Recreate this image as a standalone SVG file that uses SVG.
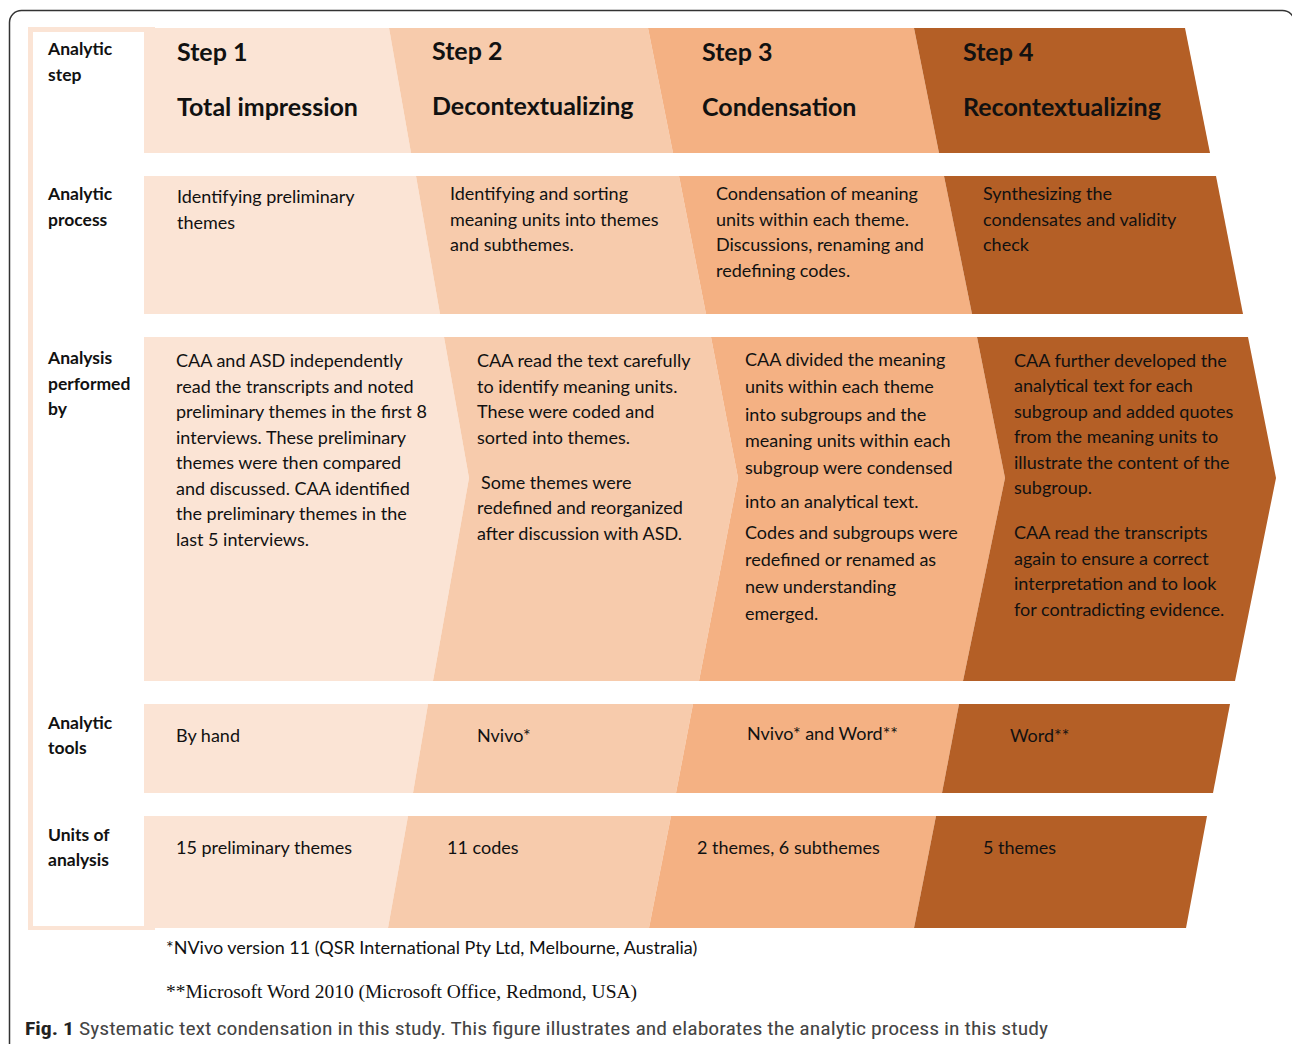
<svg xmlns="http://www.w3.org/2000/svg" width="1292" height="1044" viewBox="0 0 1292 1044">
<style>
.s1{fill:#FBE4D5}.s2{fill:#F7CBAC}.s3{fill:#F4B183}.s4{fill:#B45F26}
text{font-family:Lato,"Open Sans","Liberation Sans",sans-serif;fill:#111}
.lab{font-size:17.5px;font-weight:bold}
.hd{font-size:25px;font-weight:bold}
.bd{font-size:18px}
.fn{font-size:18px}
.ser{font-family:"Liberation Serif","Times New Roman",serif;font-size:19.5px}
.cap{font-family:"Liberation Sans Narrow","Roboto Condensed","Liberation Sans",sans-serif;font-size:19px;fill:#444}
</style>
<rect x="9.5" y="10.5" width="1285" height="1100" rx="12" fill="#fff" stroke="#333" stroke-width="1.5"/>
<g id="label-column">
<rect x="28" y="27" width="116" height="903" class="s1"/>
<rect x="28" y="27" width="127" height="5" class="s1"/>
<rect x="28" y="925" width="127" height="5" class="s1"/>
<rect x="33" y="32" width="111" height="894" fill="#fff"/>
<text class="lab" x="48" y="55">Analytic</text><text class="lab" x="48" y="81">step</text>
<text class="lab" x="48" y="200">Analytic</text><text class="lab" x="48" y="226">process</text>
<text class="lab" x="48" y="364">Analysis</text><text class="lab" x="48" y="390">performed</text><text class="lab" x="48" y="415">by</text>
<text class="lab" x="48" y="729">Analytic</text><text class="lab" x="48" y="754">tools</text>
<text class="lab" x="48" y="841">Units of</text><text class="lab" x="48" y="866">analysis</text>
</g>
<g id="row-step">
<g id="step1-head"><polygon class="s1" points="144,28 389,28 411,153 144,153"/><text class="hd" x="177" y="61">Step 1</text><text class="hd" x="177" y="116">Total impression</text></g>
<g id="step2-head"><polygon class="s2" points="389,28 648,28 673,153 411,153"/><text class="hd" x="432" y="60">Step 2</text><text class="hd" x="432" y="115">Decontextualizing</text></g>
<g id="step3-head"><polygon class="s3" points="648,28 914,28 939,153 673,153"/><text class="hd" x="702" y="61">Step 3</text><text class="hd" x="702" y="116">Condensation</text></g>
<g id="step4-head"><polygon class="s4" points="914,28 1185,28 1210,153 939,153"/><text class="hd" x="963" y="61">Step 4</text><text class="hd" x="963" y="116">Recontextualizing</text></g>
</g>
<g id="row-process">
<g id="step1-process"><polygon class="s1" points="144,176 416,176 440,314 144,314"/><text class="bd" x="177" y="203">Identifying preliminary</text><text class="bd" x="177" y="229">themes</text></g>
<g id="step2-process"><polygon class="s2" points="416,176 679,176 706,314 440,314"/><text class="bd" x="450" y="200">Identifying and sorting</text><text class="bd" x="450" y="226">meaning units into themes</text><text class="bd" x="450" y="251">and subthemes.</text></g>
<g id="step3-process"><polygon class="s3" points="679,176 944,176 972,314 706,314"/><text class="bd" x="716" y="200">Condensation of meaning</text><text class="bd" x="716" y="226">units within each theme.</text><text class="bd" x="716" y="251">Discussions, renaming and</text><text class="bd" x="716" y="277">redefining codes.</text></g>
<g id="step4-process"><polygon class="s4" points="944,176 1216,176 1243,314 972,314"/><text class="bd" x="983" y="200">Synthesizing the</text><text class="bd" x="983" y="226">condensates and validity</text><text class="bd" x="983" y="251">check</text></g>
</g>
<g id="row-performed">
<g id="step1-performed"><polygon class="s1" points="144,337 444,337 469,478 433,681 144,681"/>
<text class="bd" x="176" y="367">CAA and ASD independently</text><text class="bd" x="176" y="393">read the transcripts and noted</text><text class="bd" x="176" y="418">preliminary themes in the first 8</text><text class="bd" x="176" y="444">interviews. These preliminary</text><text class="bd" x="176" y="469">themes were then compared</text><text class="bd" x="176" y="495">and discussed. CAA identified</text><text class="bd" x="176" y="520">the preliminary themes in the</text><text class="bd" x="176" y="546">last 5 interviews.</text></g>
<g id="step2-performed"><polygon class="s2" points="444,337 711,337 738,478 699,681 433,681 469,478"/>
<text class="bd" x="477" y="367">CAA read the text carefully</text><text class="bd" x="477" y="393">to identify meaning units.</text><text class="bd" x="477" y="418">These were coded and</text><text class="bd" x="477" y="444">sorted into themes.</text><text class="bd" x="481" y="489">Some themes were</text><text class="bd" x="477" y="514">redefined and reorganized</text><text class="bd" x="477" y="540">after discussion with ASD.</text></g>
<g id="step3-performed"><polygon class="s3" points="711,337 977,337 1005,478 963,681 699,681 738,478"/>
<text class="bd" x="745" y="366">CAA divided the meaning</text><text class="bd" x="745" y="393">units within each theme</text><text class="bd" x="745" y="421">into subgroups and the</text><text class="bd" x="745" y="447">meaning units within each</text><text class="bd" x="745" y="474">subgroup were condensed</text><text class="bd" x="745" y="508">into an analytical text.</text><text class="bd" x="745" y="539">Codes and subgroups were</text><text class="bd" x="745" y="566">redefined or renamed as</text><text class="bd" x="745" y="593">new understanding</text><text class="bd" x="745" y="620">emerged.</text></g>
<g id="step4-performed"><polygon class="s4" points="977,337 1248,337 1276,478 1235,681 963,681 1005,478"/>
<text class="bd" x="1014" y="367">CAA further developed the</text><text class="bd" x="1014" y="392">analytical text for each</text><text class="bd" x="1014" y="418">subgroup and added quotes</text><text class="bd" x="1014" y="443">from the meaning units to</text><text class="bd" x="1014" y="469">illustrate the content of the</text><text class="bd" x="1014" y="494">subgroup.</text><text class="bd" x="1014" y="539">CAA read the transcripts</text><text class="bd" x="1014" y="565">again to ensure a correct</text><text class="bd" x="1014" y="590">interpretation and to look</text><text class="bd" x="1014" y="616">for contradicting evidence.</text></g>
</g>
<g id="row-tools">
<g id="step1-tools"><polygon class="s1" points="144,704 428,704 413,793 144,793"/><text class="bd" x="176" y="742">By hand</text></g>
<g id="step2-tools"><polygon class="s2" points="428,704 693,704 676,793 413,793"/><text class="bd" x="477" y="742">Nvivo*</text></g>
<g id="step3-tools"><polygon class="s3" points="693,704 959,704 942,793 676,793"/><text class="bd" x="747" y="740">Nvivo* and Word**</text></g>
<g id="step4-tools"><polygon class="s4" points="959,704 1230,704 1213,793 942,793"/><text class="bd" x="1010" y="742">Word**</text></g>
</g>
<g id="row-units">
<g id="step1-units"><polygon class="s1" points="144,816 408,816 388,928 144,928"/><text class="bd" x="176" y="854">15 preliminary themes</text></g>
<g id="step2-units"><polygon class="s2" points="408,816 671,816 649,928 388,928"/><text class="bd" x="447" y="854">11 codes</text></g>
<g id="step3-units"><polygon class="s3" points="671,816 936,816 914,928 649,928"/><text class="bd" x="697" y="854">2 themes, 6 subthemes</text></g>
<g id="step4-units"><polygon class="s4" points="936,816 1207,816 1186,928 914,928"/><text class="bd" x="983" y="854">5 themes</text></g>
</g>
<g id="connectors"></g>
<g id="footnotes">
<text class="fn" x="166" y="954">*NVivo version 11 (QSR International Pty Ltd, Melbourne, Australia)</text>
<text class="ser" x="166" y="998">**Microsoft Word 2010 (Microsoft Office, Redmond, USA)</text>
<text class="cap" x="25" y="1035" textLength="1023" lengthAdjust="spacingAndGlyphs"><tspan font-weight="bold" fill="#222">Fig. 1</tspan> Systematic text condensation in this study. This figure illustrates and elaborates the analytic process in this study</text>
</g>
</svg>
